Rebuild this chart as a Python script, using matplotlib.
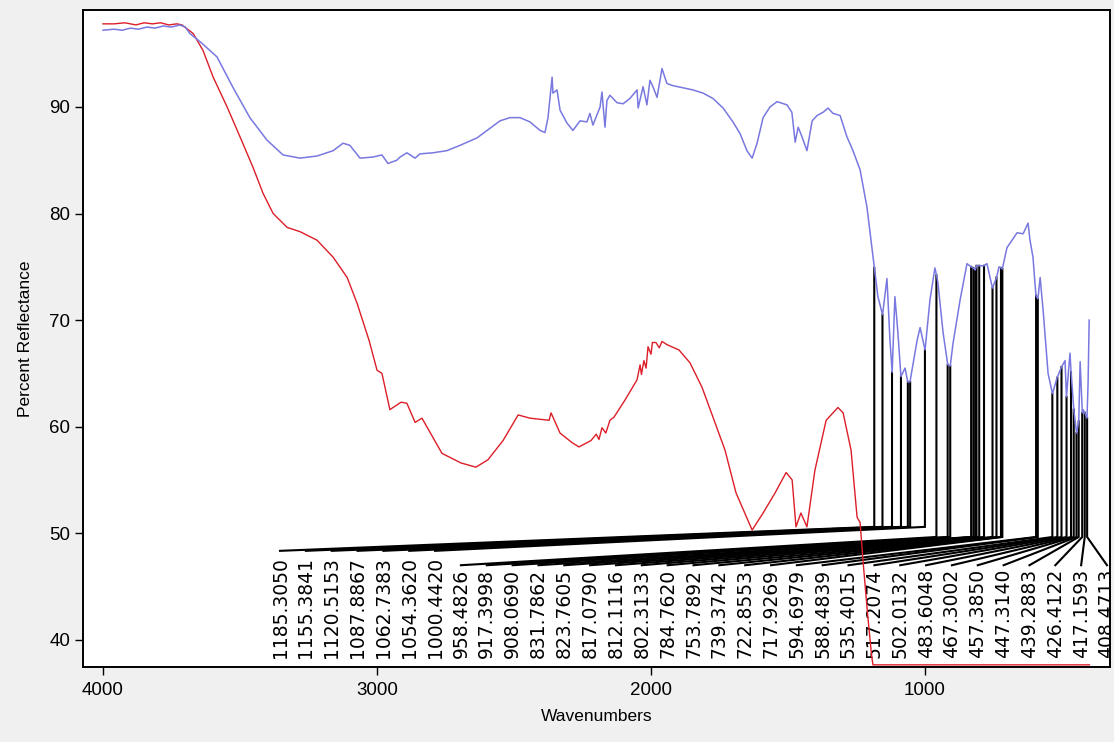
import numpy as np
import matplotlib
matplotlib.use("Agg")
import matplotlib.pyplot as plt

plt.rcParams['font.family'] = ['Liberation Sans', 'DejaVu Sans']

# Sample spectrum (blue): wavenumber (cm-1) and percent reflectance
blue_wn = [4000, 3960, 3930, 3900, 3870, 3840, 3810, 3780, 3750, 3720, 3700, 3683,
           3640, 3584, 3525, 3464, 3402, 3343, 3281, 3219, 3160, 3124, 3099, 3062,
           3015, 2982, 2960, 2928, 2916, 2891, 2861, 2843, 2796, 2745, 2697, 2635,
           2588, 2551, 2515, 2478, 2442, 2405, 2387, 2376, 2361, 2358, 2343, 2332,
           2307, 2285, 2259, 2234, 2223, 2212, 2186, 2179, 2168, 2161, 2150, 2124,
           2102, 2077, 2051, 2047, 2029, 2015, 2004, 1993, 1978, 1960, 1942, 1920,
           1883, 1847, 1810, 1774, 1737, 1701, 1675, 1650, 1631, 1613, 1591, 1566,
           1540, 1504, 1486, 1474, 1463, 1449, 1431, 1412, 1394, 1372, 1354, 1336,
           1310, 1285, 1263, 1237, 1212, 1193, 1185, 1172, 1155, 1139, 1128, 1120,
           1110, 1099, 1088, 1073, 1063, 1055, 1029, 1018, 1000, 982, 964, 958,
           953, 934, 917, 908, 898, 872, 847, 832, 824, 817, 812, 802, 785, 774,
           754, 739, 730, 723, 718, 701, 664, 642, 624, 617, 606, 599, 595, 588,
           580, 569, 551, 535, 518, 502, 489, 484, 471, 467, 457, 447, 439, 434,
           426, 423, 417, 409, 405, 401]
blue_pct = [97.2, 97.3, 97.2, 97.4, 97.3, 97.5, 97.4, 97.6, 97.5, 97.7, 97.5, 96.9,
            96.0, 94.7, 91.8, 89.0, 86.9, 85.5, 85.2, 85.4, 85.9, 86.6, 86.4, 85.2,
            85.3, 85.5, 84.7, 85.0, 85.3, 85.7, 85.2, 85.6, 85.7, 85.9, 86.4, 87.1,
            88.0, 88.7, 89.0, 89.0, 88.6, 87.8, 87.6, 89.0, 92.8, 91.3, 91.6, 89.7,
            88.5, 87.8, 88.7, 88.6, 89.4, 88.3, 90.0, 91.4, 88.1, 90.6, 91.1, 90.4,
            90.3, 90.8, 91.6, 89.9, 91.9, 90.2, 92.5, 91.9, 90.9, 93.6, 92.2, 92.0,
            91.8, 91.6, 91.3, 90.8, 89.9, 88.6, 87.5, 85.9, 85.2, 86.6, 89.0, 90.0,
            90.5, 90.2, 89.5, 86.7, 88.1, 87.2, 85.9, 88.7, 89.2, 89.5, 89.9, 89.4,
            89.2, 87.2, 85.9, 84.1, 80.6, 76.6, 74.9, 72.2, 70.5, 73.9, 68.1, 65.1,
            72.2, 68.8, 64.7, 65.5, 64.2, 64.2, 68.1, 69.3, 67.2, 71.9, 74.9, 74.2,
            73.5, 68.8, 65.8, 65.7, 67.8, 71.9, 75.3, 75.0, 74.9, 74.7, 75.1, 75.1,
            75.1, 75.3, 73.0, 74.0, 75.0, 74.9, 74.8, 76.8, 78.2, 78.1, 79.1, 77.5,
            75.9, 73.5, 72.3, 72.0, 74.0, 70.9, 65.0, 63.1, 64.6, 65.6, 66.2, 62.8,
            66.9, 65.1, 61.6, 59.4, 60.5, 66.1, 61.3, 61.6, 61.3, 60.8, 64.1, 70.0]

# Reference spectrum (red)
red_wn = [4000, 3960, 3920, 3880, 3850, 3820, 3790, 3760, 3730, 3712, 3671, 3635,
          3598, 3547, 3500, 3452, 3416, 3379, 3328, 3281, 3219, 3160, 3109, 3073,
          3029, 3000, 2982, 2953, 2912, 2891, 2861, 2836, 2763, 2694, 2639, 2595,
          2540, 2485, 2442, 2372, 2365, 2332, 2288, 2263, 2219, 2200, 2190, 2179,
          2165, 2150, 2135, 2095, 2051, 2040, 2035, 2026, 2018, 2011, 2000, 1995,
          1982, 1970, 1960, 1942, 1898, 1858, 1814, 1774, 1730, 1690, 1631, 1591,
          1547, 1507, 1485, 1471, 1453, 1431, 1402, 1361, 1318, 1299, 1270, 1248,
          1237, 1225, 1210, 1195, 1190, 400]
red_pct = [97.8, 97.8, 97.9, 97.7, 97.9, 97.8, 97.9, 97.7, 97.8, 97.7, 96.9, 95.3,
           92.8, 90.0, 87.2, 84.3, 81.9, 80.0, 78.7, 78.3, 77.5, 75.9, 74.0, 71.6,
           68.1, 65.3, 65.0, 61.6, 62.3, 62.2, 60.4, 60.8, 57.5, 56.6, 56.2, 56.9,
           58.7, 61.1, 60.8, 60.6, 61.3, 59.4, 58.5, 58.1, 58.7, 59.3, 58.8, 59.9,
           59.4, 60.6, 60.9, 62.5, 64.4, 65.8, 64.9, 66.2, 65.5, 67.5, 66.8, 67.9,
           67.9, 67.4, 68.0, 67.7, 67.2, 66.0, 63.7, 60.9, 57.8, 53.8, 50.3, 51.9,
           53.8, 55.7, 55.0, 50.6, 51.9, 50.6, 55.9, 60.6, 61.8, 61.3, 57.8, 51.5,
           51.0, 47.0, 42.5, 38.5, 37.65, 37.65]

# Picked peaks on the sample spectrum
peak_labels = ["1185.3050", "1155.3841", "1120.5153", "1087.8867", "1062.7383",
               "1054.3620", "1000.4420", "958.4826", "917.3998", "908.0690",
               "831.7862", "823.7605", "817.0790", "812.1116", "802.3133",
               "784.7620", "753.7892", "739.3742", "722.8553", "717.9269",
               "594.6979", "588.4839", "535.4015", "517.2074", "502.0132",
               "483.6048", "467.3002", "457.3850", "447.3140", "439.2883",
               "426.4122", "417.1593", "408.4713"]
peak_wn = [float(s) for s in peak_labels]
peak_pct = [74.9, 70.5, 65.1, 64.7, 64.2, 64.2, 67.2, 74.2, 65.8, 65.7,
            75.0, 74.9, 74.7, 75.1, 75.1, 75.1, 73.0, 74.0, 74.9, 74.8,
            72.3, 72.0, 63.1, 64.6, 65.6, 62.8, 65.1, 61.6, 59.4, 60.5,
            61.3, 61.3, 60.8]

x_ticks = [4000, 3000, 2000, 1000]
y_ticks = [40, 50, 60, 70, 80, 90]

fig = plt.figure(figsize=(11.14, 7.42), dpi=100, facecolor='#f0f0f0')
ax = fig.add_axes([83 / 1114, 1 - 667 / 742, 1027 / 1114, 657 / 742])
ax.set_facecolor('white')
ax.set_xlim(4073, 325)
ax.set_ylim(37.45, 99.1)

# Peak markers: vertical drop, then a leader to the label
n = len(peak_wn)
label_x = np.linspace(3354, 336, n)
text_bottom = 38.31
for i, (w, p, lx, s) in enumerate(zip(peak_wn, peak_pct, label_x, peak_labels)):
    if i < 7:
        foot, end = 50.6, 48.35
    else:
        foot, end = 49.65, 47.0
    ax.plot([w, w, lx], [p, foot, end], color='black', lw=1.5, zorder=2,
            solid_joinstyle='miter')
    ax.text(lx, text_bottom, s, rotation=90, ha='center', va='bottom',
            fontsize=13.5, family='DejaVu Sans', color='black',
            clip_on=True, zorder=2)

ax.plot(red_wn, red_pct, color='#dc1e28', lw=1.0, zorder=3)
ax.plot(blue_wn, blue_pct, color='#7878e0', lw=1.1, zorder=3)

ax.set_xticks(x_ticks)
ax.set_yticks(y_ticks)
ax.tick_params(direction='out', length=6, width=1, labelsize=13.5,
               colors='black', pad=3)
ax.tick_params(axis='x', pad=5)
for sp in ax.spines.values():
    sp.set_linewidth(1.4)
    sp.set_zorder(4)

ax.set_xlabel("Wavenumbers", fontsize=12.5)
ax.set_ylabel("Percent Reflectance", fontsize=12.5)
ax.xaxis.set_label_coords(0.5, -0.064)
ax.yaxis.set_label_coords(-0.049, 0.5)

fig.savefig("out.png", dpi=100, facecolor=fig.get_facecolor())
